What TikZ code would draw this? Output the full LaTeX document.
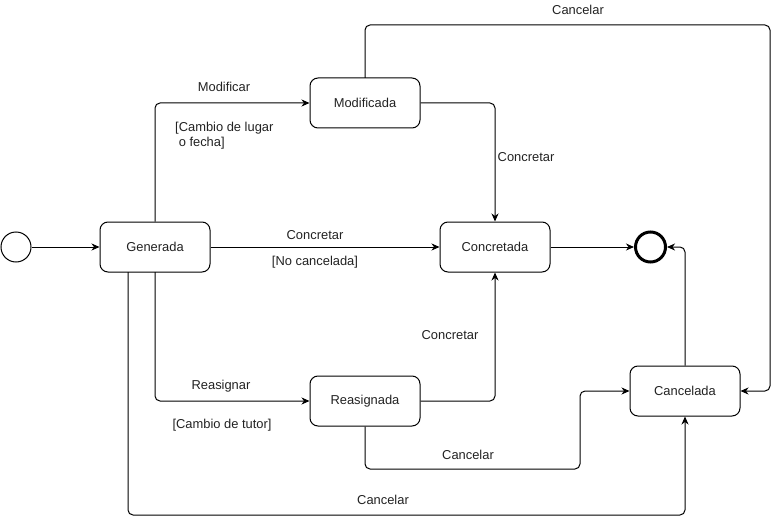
\documentclass[tikz,border=0pt]{standalone}
\usepackage{fontspec}
\setmainfont{Liberation Sans}
\usetikzlibrary{arrows.meta}
\definecolor{txt}{HTML}{222222}
\begin{document}
\begin{tikzpicture}[x=1pt,y=-1pt,
  every node/.style={font=\fontsize{12.9}{15}\selectfont, text=txt},
  state/.style={draw, line width=1pt, rounded corners=8pt, minimum width=110pt, minimum height=50pt, inner sep=0pt},
  flow/.style={draw, line width=1pt, rounded corners=5pt, -{Stealth[length=8pt,width=7pt,inset=2.5pt]}},
  lbl/.style={inner sep=0pt}]
\useasboundingbox (0,0) rectangle (779,524);

% states
\node[draw, line width=1pt, circle, minimum size=30pt, inner sep=0pt] (ini) at (16,247) {};
\node[draw, line width=3pt, circle, minimum size=30pt, inner sep=0pt] (fin) at (650.5,247) {};
\node[state] (gen) at (155,247) {Generada};
\node[state] (mod) at (365,103) {Modificada};
\node[state] (con) at (495,247) {Concretada};
\node[state] (rea) at (365,401) {Reasignada};
\node[state] (can) at (685,391) {Cancelada};

% waypoints
\coordinate (g1) at (128,272);
\coordinate (g2) at (155,272);
\coordinate (m1) at (365,78);

% transitions
\draw[flow] (ini) -- (gen);
\draw[flow] (gen.north) |- (mod.west);
\draw[flow] (gen) -- (con);
\draw[flow] (g2) |- (rea.west);
\draw[flow] (g1) -- (128,515) -| (can.south);
\draw[flow] (mod.east) -| (con.north);
\draw[flow] (m1) -- (365,25) -- (770,25) |- (can.east);
\draw[flow] (rea.east) -| (con.south);
\draw[flow] (rea.south) |- (580,469) |- (can.west);
\draw[flow] (can.north) |- (fin.east);
\draw[flow] (con) -- (fin);

% labels
\node[lbl] (l1) at (224,87) {Modificar};
\node[lbl, anchor=west, align=left] (l2) at (175,135.5) {[Cambio de lugar\\\ o fecha]};
\node[lbl] (l3) at (315,235) {Concretar};
\node[lbl] (l4) at (315,262) {[No cancelada]};
\node[lbl] (l5) at (221,386) {Reasignar};
\node[lbl] (l6) at (222,425) {[Cambio de tutor]};
\node[lbl] (l7) at (383,500) {Cancelar};
\node[lbl] (l8) at (526,157) {Concretar};
\node[lbl] (l9) at (450,335) {Concretar};
\node[lbl] (l10) at (578,10) {Cancelar};
\node[lbl] (l11) at (468,455) {Cancelar};
\end{tikzpicture}
\end{document}
